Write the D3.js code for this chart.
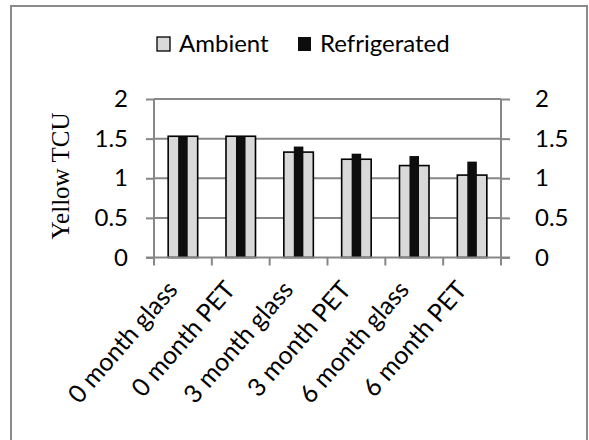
<!DOCTYPE html>
<html>
<head>
<meta charset="utf-8">
<script src="https://cdn.jsdelivr.net/npm/d3@7"></script>
<style>
  html, body { margin: 0; padding: 0; background: #fff; }
  svg { display: block; }
</style>
</head>
<body>
<svg id="chart" width="589" height="440"></svg>
<script>
// Yellow colour (TCU) by storage time / container and storage condition
const categories = ["0 month glass", "0 month PET", "3 month glass", "3 month PET", "6 month glass", "6 month PET"];
const ambient = [1.53, 1.53, 1.33, 1.24, 1.16, 1.04];
const refrigerated = [1.53, 1.53, 1.40, 1.31, 1.28, 1.21];
const yTicks = [0, 0.5, 1, 1.5, 2];
const seriesNames = ["Ambient", "Refrigerated"];

const svg = d3.select("#chart");
const plot = { left: 154, right: 501, top: 99, bottom: 257.5 };
const gridColor = "#878787";
const labelFont = "Lato, 'Open Sans', sans-serif";

// outer frame
svg.append("rect")
  .attr("x", 11).attr("y", 6).attr("width", 576).attr("height", 440)
  .attr("fill", "#fff").attr("stroke", "#8a8a8a").attr("stroke-width", 2);

const x = d3.scaleBand().domain(categories).range([plot.left, plot.right]).padding(0);
const y = d3.scaleLinear().domain([0, 2]).range([plot.bottom, plot.top]);

// horizontal gridlines
svg.append("g").selectAll("line").data(yTicks.filter(d => d > 0)).join("line")
  .attr("x1", plot.left).attr("x2", plot.right)
  .attr("y1", d => y(d)).attr("y2", d => y(d))
  .attr("stroke", gridColor).attr("stroke-width", 2);

// ambient bars (primary axis, wide)
const wideW = x.bandwidth() * 0.51;
svg.append("g").selectAll("rect").data(categories).join("rect")
  .attr("x", (d) => x(d) + (x.bandwidth() - wideW) / 2)
  .attr("y", (d, i) => y(ambient[i]))
  .attr("width", wideW)
  .attr("height", (d, i) => y(0) - y(ambient[i]))
  .attr("fill", "#d9d9d9").attr("stroke", "#000").attr("stroke-width", 1.6);

// refrigerated bars (secondary axis, narrow, drawn on top)
const narrowW = x.bandwidth() * 0.165;
svg.append("g").selectAll("rect").data(categories).join("rect")
  .attr("x", (d) => x(d) + (x.bandwidth() - narrowW) / 2)
  .attr("y", (d, i) => y(refrigerated[i]))
  .attr("width", narrowW)
  .attr("height", (d, i) => y(0) - y(refrigerated[i]))
  .attr("fill", "#0d0d0d");

// left axis
const leftAxis = d3.axisLeft(y).tickValues(yTicks).tickFormat(d3.format("")).tickSize(8).tickPadding(18);
const gl = svg.append("g").attr("transform", `translate(${plot.left},0)`).call(leftAxis);
// right axis
const rightAxis = d3.axisRight(y).tickValues(yTicks).tickFormat(d3.format("")).tickSize(9).tickPadding(25);
const gr = svg.append("g").attr("transform", `translate(${plot.right},0)`).call(rightAxis);
// bottom axis with boundary ticks
const xEdges = d3.range(categories.length + 1).map(i => plot.left + i * x.step());
const gb = svg.append("g");
gb.append("line").attr("x1", plot.left - 8).attr("x2", plot.right + 9)
  .attr("y1", plot.bottom).attr("y2", plot.bottom)
  .attr("stroke", gridColor).attr("stroke-width", 2);
gb.selectAll("line.tk").data(xEdges).join("line").attr("class", "tk")
  .attr("x1", d => d).attr("x2", d => d)
  .attr("y1", plot.bottom).attr("y2", plot.bottom + 8)
  .attr("stroke", gridColor).attr("stroke-width", 2);

[gl, gr].forEach(g => {
  g.select(".domain").attr("stroke", gridColor).attr("stroke-width", 2);
  g.selectAll(".tick line").attr("stroke", gridColor).attr("stroke-width", 2);
  g.selectAll(".tick text").attr("font-family", labelFont).attr("font-size", 24).attr("fill", "#000");
  g.attr("font-family", null).attr("font-size", null);
});
gl.select(".domain").attr("d", `M0,${plot.top}V${plot.bottom}`);
gr.select(".domain").attr("d", `M0,${plot.top}V${plot.bottom}`);

// category labels, rotated
svg.append("g").selectAll("text").data(categories).join("text")
  .attr("transform", d => `translate(${x(d) + x.bandwidth() / 2 - 4},${plot.bottom + 33}) rotate(-49)`)
  .attr("text-anchor", "end")
  .attr("font-family", labelFont).attr("font-size", 25).attr("fill", "#000")
  .text(d => d);

// y axis title
svg.append("text")
  .attr("transform", `translate(69,176) rotate(-90)`)
  .attr("text-anchor", "middle")
  .attr("font-family", "'Liberation Serif', 'Times New Roman', serif")
  .attr("font-size", 25).attr("fill", "#000")
  .text("Yellow TCU");

// legend
const legend = svg.append("g");
const items = [
  { name: seriesNames[0], fill: "#d9d9d9", stroke: "#000", sx: 157, tx: 179 },
  { name: seriesNames[1], fill: "#0d0d0d", stroke: "none", sx: 298, tx: 320 }
];
items.forEach(it => {
  legend.append("rect").attr("x", it.sx).attr("y", 37).attr("width", 13).attr("height", 14)
    .attr("fill", it.fill).attr("stroke", it.stroke).attr("stroke-width", 1.3);
  legend.append("text").attr("x", it.tx).attr("y", 52)
    .attr("font-family", labelFont).attr("font-size", 24).attr("fill", "#000")
    .text(it.name);
});
</script>
</body>
</html>
